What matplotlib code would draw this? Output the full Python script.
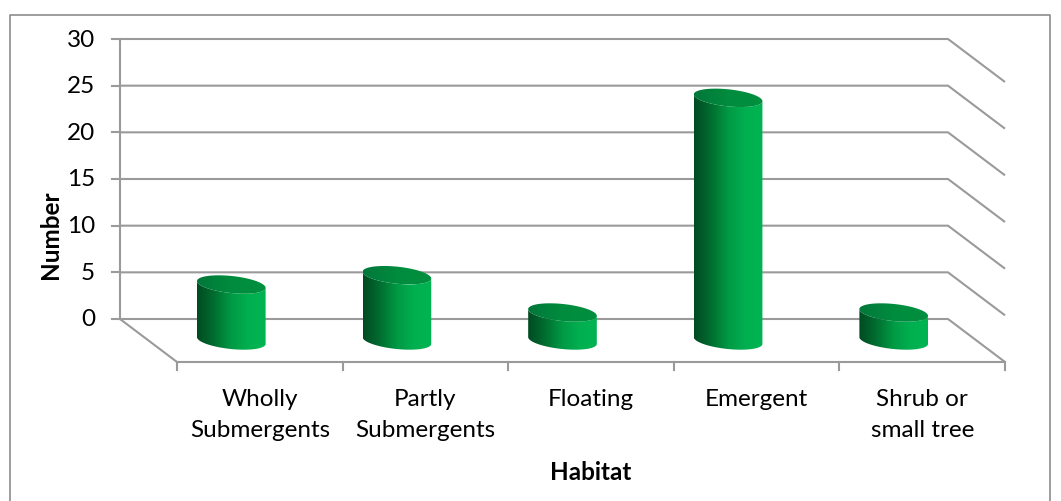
import numpy as np
import matplotlib.pyplot as plt
from matplotlib.colors import LinearSegmentedColormap
from matplotlib.patches import Polygon
from matplotlib.lines import Line2D

# data
habitats = ["Wholly\nSubmergents", "Partly\nSubmergents", "Floating", "Emergent", "Shrub or\nsmall tree"]
counts = [6, 7, 3, 26, 3]
yticks = [0, 5, 10, 15, 20, 25, 30]

W, H = 1061, 502
fig = plt.figure(figsize=(W / 100, H / 100), dpi=100)
plt.rcParams['font.family'] = ['Lato', 'DejaVu Sans']
fs = 17.5

# axes spans whole figure; back wall: x 0..5 -> px 120..948, y 0..30 -> px 320..40
px_x = (948 - 120) / 5.0
px_y = (320 - 40) / 30.0
ax = fig.add_axes([0, 0, 1, 1])
xlim = (-120 / px_x, (W - 120) / px_x)
ylim = (-(H - 320) / px_y, 320 / px_y)
ax.set_xlim(xlim)
ax.set_ylim(ylim)
ax.axis("off")

# depth offset (front of floor relative to back wall)
dx = 57 / px_x
dy = -43 / px_y
grid_c = "#9a9a9a"
lw = 1.5
n = len(habitats)

# back wall gridlines + right side wall lines
for v in yticks:
    ax.plot([0, n, n + dx], [v, v, v + dy], color=grid_c, lw=lw, solid_capstyle="butt", zorder=1)
    ax.plot([-8 / px_x, 0], [v, v], color=grid_c, lw=lw, zorder=1)
    ax.text(-25 / px_x, v, str(v), ha="right", va="center", fontsize=fs, color="black")
# vertical axis
ax.plot([0, 0], [0, 30], color=grid_c, lw=lw, zorder=1)
# floor
ax.plot([0, dx, n + dx], [0, dy, dy], color=grid_c, lw=lw, zorder=1)
for i in range(n + 1):
    ax.plot([i + dx, i + dx], [dy, dy - 8 / px_y], color=grid_c, lw=lw, zorder=1)

body_cmap = LinearSegmentedColormap.from_list(
    "body", ["#004a22", "#006e30", "#009a45", "#00b050", "#00b452"])
top_cmap = LinearSegmentedColormap.from_list("top", ["#00773a", "#008c3e", "#00903f"])


def ellipse_pts(cx, cy, t):
    a, b, th = 34.5, 8.5, np.deg2rad(-6)
    ex = a * np.cos(t) * np.cos(th) - b * np.sin(t) * np.sin(th)
    ey = a * np.cos(t) * np.sin(th) + b * np.sin(t) * np.cos(th)
    return cx + ex / px_x, cy + ey / px_y


for i, v in enumerate(counts):
    cx = i + 0.5 + dx / 2
    y0 = dy / 2
    y1 = v + dy / 2
    t_lo = np.linspace(np.pi, 2 * np.pi, 60)
    bx, by = ellipse_pts(cx, y0, t_lo)
    tx, ty = ellipse_pts(cx, y1, t_lo[::-1])
    body = np.column_stack([np.r_[bx, tx], np.r_[by, ty]])
    poly = Polygon(body, closed=True, facecolor="none", edgecolor="none")
    ax.add_patch(poly)
    grad = np.linspace(0, 1, 256).reshape(1, -1)
    x_l, x_r = body[:, 0].min(), body[:, 0].max()
    im = ax.imshow(grad, extent=[x_l, x_r, body[:, 1].min(), body[:, 1].max()],
                   aspect="auto", cmap=body_cmap, zorder=3, interpolation="bilinear")
    im.set_clip_path(poly)
    # top cap
    t_all = np.linspace(0, 2 * np.pi, 120)
    ux, uy = ellipse_pts(cx, y1, t_all)
    cap = Polygon(np.column_stack([ux, uy]), closed=True, facecolor="none", edgecolor="none")
    ax.add_patch(cap)
    im2 = ax.imshow(grad, extent=[ux.min(), ux.max(), uy.min(), uy.max()],
                    aspect="auto", cmap=top_cmap, zorder=4, interpolation="bilinear")
    im2.set_clip_path(cap)

ax.set_xlim(xlim)
ax.set_ylim(ylim)

# category labels
for i, lab in enumerate(habitats):
    ax.text(i + 0.5 + dx, dy - 26 / px_y, lab, ha="center", va="top",
            fontsize=fs, linespacing=1.6)

ax.text(591 / W, 1 - 472 / H, "Habitat", transform=fig.transFigure, ha="center",
        va="center", fontsize=fs, fontweight="bold")
ax.text(50 / W, 1 - 235 / H, "Number", transform=fig.transFigure, ha="center",
        va="center", fontsize=fs, fontweight="bold", rotation=90)

# chart border
fig.add_artist(Line2D([10 / W, 10 / W, 1050 / W, 1050 / W],
                      [0, 1 - 16 / H, 1 - 16 / H, 0], transform=fig.transFigure,
                      color="#8c8c8c", lw=1.2))

fig.savefig("out.png", dpi=100)
